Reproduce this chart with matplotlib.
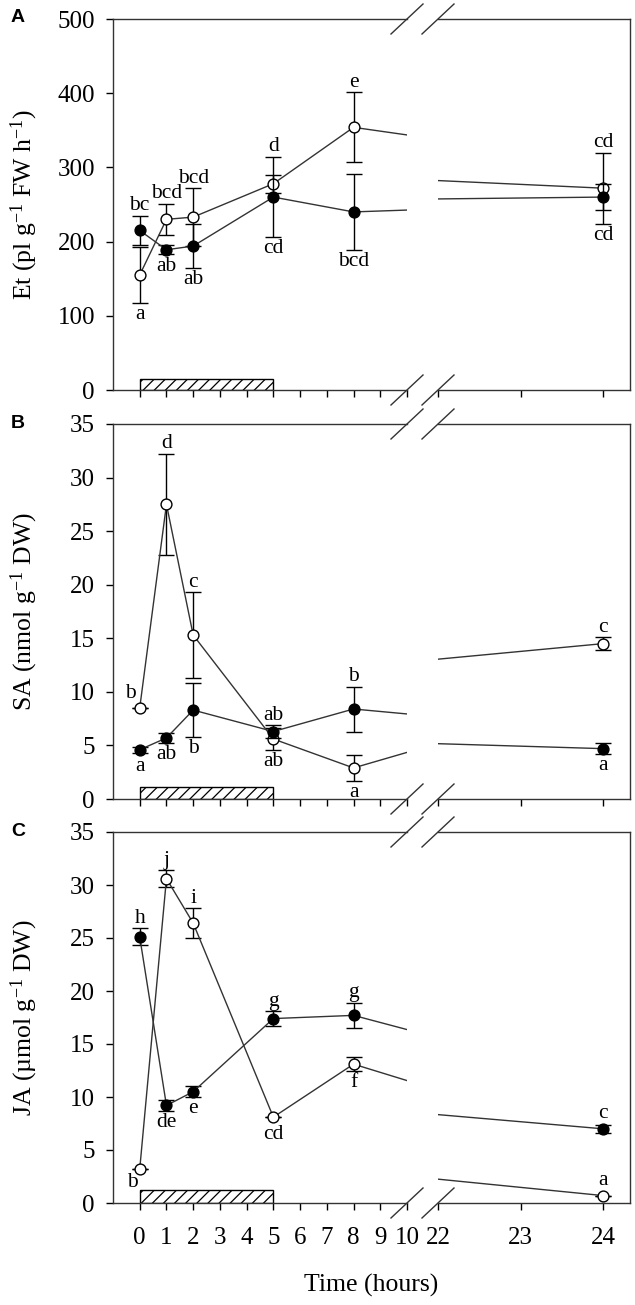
import numpy as np
import matplotlib
matplotlib.use("Agg")
import matplotlib.pyplot as plt
from matplotlib.lines import Line2D

plt.rcParams['font.family'] = ['Liberation Serif', 'DejaVu Serif']
plt.rcParams['mathtext.fontset'] = 'custom'
plt.rcParams['mathtext.rm'] = 'Liberation Serif'
plt.rcParams['mathtext.it'] = 'Liberation Serif:italic'
plt.rcParams['hatch.linewidth'] = 0.9

# sampling times (hours)
hours = [0, 1, 2, 5, 8, 24]

# A: ethylene
et_open = [155, 230, 233, 278, 354, 272]
et_open_err = [38, 21, 39, 12, 47, 48]
et_filled = [215, 189, 194, 260, 240, 260]
et_filled_err = [20, 6, 30, 54, 51, 18]

# B: salicylic acid
sa_open = [8.5, 27.5, 15.3, 5.6, 2.9, 14.5]
sa_open_err = [0.0, 4.7, 4.0, 1.0, 1.2, 0.6]
sa_filled = [4.6, 5.7, 8.3, 6.3, 8.4, 4.7]
sa_filled_err = [0.3, 0.5, 2.5, 0.6, 2.1, 0.5]

# C: jasmonic acid
ja_open = [3.2, 30.6, 26.4, 8.1, 13.1, 0.7]
ja_open_err = [0.0, 0.8, 1.4, 0.0, 0.65, 0.0]
ja_filled = [25.1, 9.2, 10.5, 17.4, 17.7, 7.0]
ja_filled_err = [0.8, 0.55, 0.5, 0.7, 1.2, 0.35]

# significance letters: (time index, series, side, text)
ann_et = [(0, 'f', 'up', 'bc'), (0, 'o', 'down', 'a'),
          (1, 'o', 'up', 'bcd'), (1, 'f', 'down', 'ab'),
          (2, 'o', 'up', 'bcd'), (2, 'f', 'down', 'ab'),
          (3, 'f', 'up', 'd'), (3, 'f', 'down', 'cd'),
          (4, 'o', 'up', 'e'), (4, 'f', 'down', 'bcd'),
          (5, 'o', 'up', 'cd'), (5, 'o', 'down', 'cd')]
ann_sa = [(0, 'o', 'ul', 'b'), (0, 'f', 'down', 'a'),
          (1, 'o', 'up', 'd'), (1, 'f', 'down', 'ab'),
          (2, 'o', 'up', 'c'), (2, 'f', 'down', 'b'),
          (3, 'f', 'up', 'ab'), (3, 'o', 'down', 'ab'),
          (4, 'f', 'up', 'b'), (4, 'o', 'down', 'a'),
          (5, 'o', 'up', 'c'), (5, 'f', 'down', 'a')]
ann_ja = [(0, 'f', 'up', 'h'), (0, 'o', 'dl', 'b'),
          (1, 'o', 'up', 'j'), (1, 'f', 'down', 'de'),
          (2, 'o', 'up', 'i'), (2, 'f', 'down', 'e'),
          (3, 'f', 'up', 'g'), (3, 'o', 'down', 'cd'),
          (4, 'f', 'up', 'g'), (4, 'o', 'down', 'f'),
          (5, 'f', 'up', 'c'), (5, 'o', 'up', 'a')]

ylabels = ['Et (pl g$^{-1}$ FW h$^{-1}$)',
           'SA (nmol g$^{-1}$ DW)',
           'JA (\u00b5mol g$^{-1}$ DW)']
ymax = [500, 35, 35]
ystep = [100, 5, 5]
shade_height = [15, 1.1, 1.2]
panel_letters = ['A', 'B', 'C']

W, H = 635, 1305
fig = plt.figure(figsize=(W / 100, H / 100), dpi=100)

def box(x0, x1, ytop, ybot):
    return [x0 / W, 1 - ybot / H, (x1 - x0) / W, (ybot - ytop) / H]

rows = [(19, 390), (424, 799), (832, 1203)]
xl0, xl1, xr0, xr1 = 113, 407, 438, 630

panels = [(et_open, et_open_err, et_filled, et_filled_err, ann_et),
          (sa_open, sa_open_err, sa_filled, sa_filled_err, ann_sa),
          (ja_open, ja_open_err, ja_filled, ja_filled_err, ann_ja)]

ms = 7.8
r = ms / 2
fs_tick = 18
fs_letter = 15.5
fs_label = 18.5

for i, (yo, yoe, yf, yfe, ann) in enumerate(panels):
    ytop, ybot = rows[i]
    axl = fig.add_axes(box(xl0, xl1, ytop, ybot))
    axr = fig.add_axes(box(xr0, xr1, ytop, ybot))
    for ax in (axl, axr):
        ax.errorbar(hours, yo, yerr=yoe, fmt='-o', color='#333333', lw=1,
                    ms=ms, mfc='white', mec='black', mew=1, ecolor='black',
                    elinewidth=1, capsize=5.5, capthick=1, zorder=3)
        ax.errorbar(hours, yf, yerr=yfe, fmt='-o', color='#333333', lw=1,
                    ms=ms, mfc='black', mec='black', mew=1, ecolor='black',
                    elinewidth=1, capsize=5.5, capthick=1, zorder=4)
        ax.set_ylim(0, ymax[i])
        ax.tick_params(direction='out', length=5, width=1, labelsize=fs_tick)
        for s in ax.spines.values():
            s.set_linewidth(1)
            s.set_color('#333333')
    # treatment bar
    axl.bar(0, shade_height[i], width=5, align='edge', facecolor='white',
            edgecolor='black', hatch='///', lw=1, zorder=2)

    axl.set_xlim(-1, 10)
    axr.set_xlim(22, 24 + (xr1 - 603) / 82.7)
    axl.set_xticks(range(0, 11))
    axr.set_xticks([22, 23, 24])
    axl.set_yticks(np.arange(0, ymax[i] + 1, ystep[i]))
    axl.tick_params(axis='y', pad=8)
    axl.tick_params(axis='x', pad=12)
    axr.tick_params(axis='x', pad=12)
    axl.spines['right'].set_visible(False)
    axr.spines['left'].set_visible(False)
    axr.tick_params(axis='y', left=False, labelleft=False)
    if i < 2:
        axl.tick_params(axis='x', labelbottom=False)
        axr.tick_params(axis='x', labelbottom=False)

    # letters
    ppu = (ybot - ytop) * 0.72 / ymax[i]
    for k, series, side, txt in ann:
        val = yo[k] if series == 'o' else yf[k]
        err = yoe[k] if series == 'o' else yfe[k]
        ax = axl if hours[k] <= 10 else axr
        off = max(err * ppu, r)
        if side == 'up':
            xyt, ha, va = (0, off + 4), 'center', 'baseline'
        elif side == 'down':
            xyt, ha, va = (0, -off - 1.5), 'center', 'top'
        elif side == 'ul':
            xyt, ha, va = (-3, r + 3), 'right', 'baseline'
        else:
            xyt, ha, va = (-1.5, -2.5), 'right', 'top'
        ax.annotate(txt, (hours[k], val), xytext=xyt, textcoords='offset points',
                    ha=ha, va=va, fontsize=fs_letter, zorder=6)

    # axis break marks
    for cx in (xl1, xr0):
        for cy in (ytop, ybot):
            fig.add_artist(Line2D([(cx - 16) / W, (cx + 16) / W],
                                  [1 - (cy + 15) / H, 1 - (cy - 15) / H],
                                  color='#333333', lw=1))

    fig.text(24 / W, 1 - (ytop + ybot) / 2 / H, ylabels[i], rotation=90,
             ha='center', va='center', fontsize=fs_label)
    fig.text(18 / W, 1 - (ytop - 1) / H, panel_letters[i], ha='center', va='center',
             fontsize=14, fontweight='bold', family='Liberation Sans')

fig.text((xl0 + xr1) / 2 / W, 1 - 1285 / H, 'Time (hours)', ha='center',
         va='center', fontsize=fs_label)

fig.savefig('out.png', dpi=100)
